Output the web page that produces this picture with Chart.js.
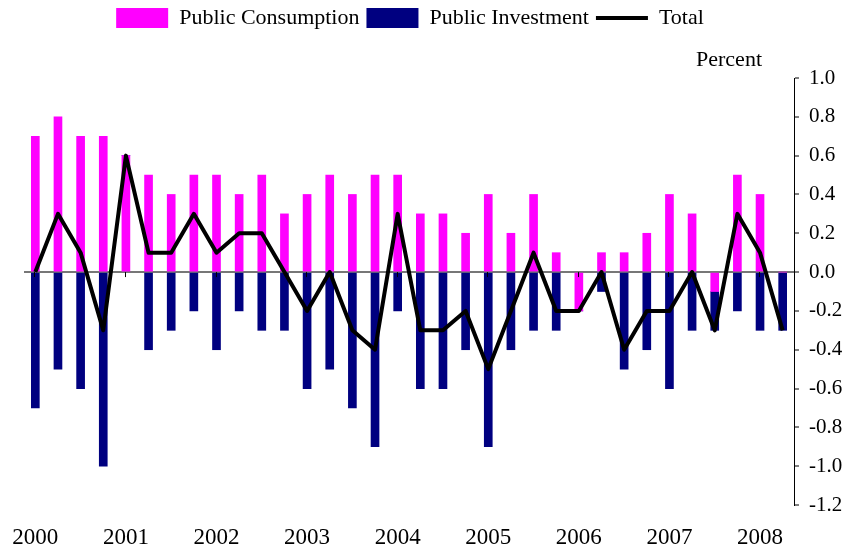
<!DOCTYPE html>
<html>
<head>
<meta charset="utf-8">
<script src="https://cdn.jsdelivr.net/npm/chart.js@4"></script>
<style>
  html, body { margin: 0; padding: 0; background: #fff; }
  #wrap { width: 848px; height: 554px; }
</style>
</head>
<body>
<div id="wrap"><canvas id="chart" width="848" height="554"></canvas></div>
<script>
// quarterly contributions, 2000Q1 - 2008Q2
const quarters = [
  '2000Q1', '2000Q2', '2000Q3', '2000Q4',
  '2001Q1', '2001Q2', '2001Q3', '2001Q4',
  '2002Q1', '2002Q2', '2002Q3', '2002Q4',
  '2003Q1', '2003Q2', '2003Q3', '2003Q4',
  '2004Q1', '2004Q2', '2004Q3', '2004Q4',
  '2005Q1', '2005Q2', '2005Q3', '2005Q4',
  '2006Q1', '2006Q2', '2006Q3', '2006Q4',
  '2007Q1', '2007Q2', '2007Q3', '2007Q4',
  '2008Q1', '2008Q2'
];
const publicConsumption = [
  0.7, 0.8, 0.7, 0.7,
  0.6, 0.5, 0.4, 0.5,
  0.5, 0.4, 0.5, 0.3,
  0.4, 0.5, 0.4, 0.5,
  0.5, 0.3, 0.3, 0.2,
  0.4, 0.2, 0.4, 0.1,
  -0.2, 0.1, 0.1, 0.2,
  0.4, 0.3, -0.1, 0.5,
  0.4, 0.0
];
const publicInvestment = [
  -0.7, -0.5, -0.6, -1.0,
  0.0, -0.4, -0.3, -0.2,
  -0.4, -0.2, -0.3, -0.3,
  -0.6, -0.5, -0.7, -0.9,
  -0.2, -0.6, -0.6, -0.4,
  -0.9, -0.4, -0.3, -0.3,
  0.0, -0.1, -0.5, -0.4,
  -0.6, -0.3, -0.2, -0.2,
  -0.3, -0.3
];
const total = [
  0.0, 0.3, 0.1, -0.3,
  0.6, 0.1, 0.1, 0.3,
  0.1, 0.2, 0.2, 0.0,
  -0.2, 0.0, -0.3, -0.4,
  0.3, -0.3, -0.3, -0.2,
  -0.5, -0.2, 0.1, -0.2,
  -0.2, 0.0, -0.4, -0.2,
  -0.2, 0.0, -0.3, 0.3,
  0.1, -0.3
];

const serif = 'Liberation Serif';

// taller legend block so the plot starts lower, legend nudged left a bit
const legendSpace = {
  id: 'legendSpace',
  beforeInit(chart) {
    const fit = chart.legend.fit;
    chart.legend.fit = function () {
      fit.bind(this)();
      this.height = 78;
    };
  },
  afterLayout(chart) {
    chart.legend.left -= 14;
    chart.legend.right -= 14;
  }
};

// "Percent" label and small year ticks on the zero line
const extras = {
  id: 'extras',
  afterDatasetsDraw(chart) {
    const { ctx, chartArea, scales } = chart;
    const y0 = scales.y.getPixelForValue(0);
    ctx.save();
    ctx.strokeStyle = '#000';
    ctx.lineWidth = 1;
    quarters.forEach((q, i) => {
      if (!q.endsWith('Q1')) return;
      const x = Math.round(scales.x.getPixelForValue(i)) - 0.5;
      ctx.beginPath();
      ctx.moveTo(x, y0);
      ctx.lineTo(x, y0 + 5);
      ctx.stroke();
    });
    ctx.fillStyle = '#000';
    ctx.font = '22px "' + serif + '"';
    ctx.textAlign = 'right';
    ctx.textBaseline = 'middle';
    ctx.fillText('Percent', chartArea.right - 32, chartArea.top - 18);
    ctx.restore();
  }
};

new Chart(document.getElementById('chart'), {
  type: 'bar',
  data: {
    labels: quarters,
    datasets: [
      {
        label: 'Public Consumption',
        data: publicConsumption,
        backgroundColor: '#FF00FF',
        barThickness: 8,
        stack: 'parts',
        order: 1,
        pointStyle: 'rect'
      },
      {
        label: 'Public Investment',
        data: publicInvestment,
        backgroundColor: '#000080',
        barThickness: 8,
        stack: 'parts',
        order: 1,
        pointStyle: 'rect'
      },
      {
        type: 'line',
        label: 'Total',
        data: total,
        borderColor: '#000',
        backgroundColor: '#000',
        borderWidth: 4,
        borderJoinStyle: 'round',
        pointRadius: 0,
        tension: 0,
        stack: 'total',
        order: 0,
        pointStyle: 'line'
      }
    ]
  },
  options: {
    responsive: false,
    animation: false,
    layout: { padding: 0 },
    plugins: {
      legend: {
        position: 'top',
        labels: {
          usePointStyle: true,
          pointStyleWidth: 52,
          boxHeight: 20,
          padding: 7,
          color: '#000',
          font: { family: serif, size: 22 },
          sort: (a, b) => a.datasetIndex - b.datasetIndex
        }
      },
      tooltip: { enabled: false }
    },
    scales: {
      x: {
        stacked: true,
        grid: { display: false, drawTicks: false },
        border: { display: false },
        ticks: {
          autoSkip: false,
          maxRotation: 0,
          minRotation: 0,
          padding: 19,
          color: '#000',
          font: { family: serif, size: 23 },
          callback: function (value) {
            const q = this.getLabelForValue(value);
            return q.endsWith('Q1') ? q.slice(0, 4) : '';
          }
        },
        afterFit(scale) {
          scale.height = 49;
          scale.paddingLeft = 24;
          scale.paddingRight = 0;
        }
      },
      y: {
        position: 'right',
        stacked: true,
        min: -1.2,
        max: 1.0,
        grid: {
          color: (c) => (Math.abs(c.tick.value) < 1e-9 ? '#777' : 'rgba(0,0,0,0)'),
          lineWidth: 2,
          tickColor: '#000',
          tickLength: 5,
          tickWidth: 1
        },
        border: { display: true, color: '#000', width: 1 },
        ticks: {
          stepSize: 0.2,
          padding: 10,
          color: '#000',
          font: { family: serif, size: 21 },
          callback: (v) => v.toFixed(1)
        },
        afterFit(scale) { scale.width = 54; }
      }
    }
  },
  plugins: [legendSpace, extras]
});
</script>
</body>
</html>
